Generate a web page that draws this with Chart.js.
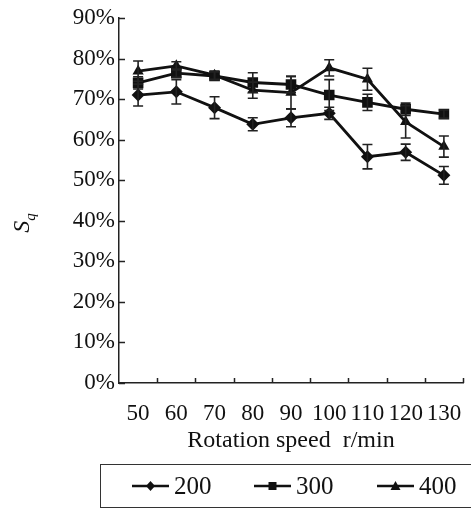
<!DOCTYPE html>
<html>
<head>
<meta charset="utf-8">
<script src="https://cdn.jsdelivr.net/npm/chart.js@4/dist/chart.umd.min.js"></script>
<style>
  body { margin: 0; background: #fff; }
  #wrap { position: relative; width: 472px; height: 509px; font-family: "Liberation Serif", "DejaVu Serif", serif; color: #111; }
  #yTitle { position: absolute; left: 4px; top: 209px; width: 34px; height: 28px; font-size: 24px; line-height: 28px; font-style: italic; transform: rotate(-90deg); text-align: center; }
  #yTitle sub { font-size: 15px; }
  #legend { position: absolute; left: 100px; top: 464px; width: 371px; height: 44px; border: 1.5px solid #333; border-right: none; box-sizing: border-box; }
  .item { position: absolute; top: 7px; height: 28px; font-size: 25px; line-height: 28px; }
  .item svg { position: absolute; left: 0; top: 7px; }
  .item span { position: absolute; left: 42px; top: 0; }
</style>
</head>
<body>
<div id="wrap">
  <canvas id="c" width="472" height="509"></canvas>
  <div id="yTitle">S<sub>q</sub></div>
  <div id="legend">
    <div class="item" style="left:31px"><svg width="40" height="14"><line x1="0" y1="7" x2="37" y2="7" stroke="#111" stroke-width="2.5"/><polygon points="18.5,2 23,7 18.5,12 14,7" fill="#111"/></svg><span>200</span></div>
    <div class="item" style="left:153px"><svg width="40" height="14"><line x1="0" y1="7" x2="37" y2="7" stroke="#111" stroke-width="2.5"/><rect x="14.5" y="3" width="8" height="8" fill="#111"/></svg><span>300</span></div>
    <div class="item" style="left:276px"><svg width="40" height="14"><line x1="0" y1="7" x2="37" y2="7" stroke="#111" stroke-width="2.5"/><polygon points="18.5,2 23.5,11 13.5,11" fill="#111"/></svg><span>400</span></div>
  </div>
</div>
<script>
// categorias e séries
const speeds = ['50', '60', '70', '80', '90', '100', '110', '120', '130'];
const s200 = [71.0, 71.8, 67.9, 63.8, 65.4, 66.5, 55.8, 56.9, 51.2];
const e200 = [2.7, 3.0, 2.7, 1.6, 2.2, 1.5, 3.0, 2.0, 2.2];
const s300 = [74.0, 76.4, 75.7, 74.1, 73.6, 71.0, 69.2, 67.5, 66.3];
const e300 = [1.5, 1.0, 1.0, 2.4, 2.0, 3.8, 2.0, 1.5, 1.0];
const s400 = [76.9, 78.2, 75.9, 72.2, 71.6, 77.7, 74.9, 64.4, 58.3];
const e400 = [2.5, 1.0, 1.0, 2.0, 4.0, 2.0, 2.7, 4.0, 2.6];
const yTicks = [0, 10, 20, 30, 40, 50, 60, 70, 80, 90];

const font = { family: '"Liberation Serif", serif', size: 23 };

// barras de erro desenhadas com as escalas do gráfico
const errorBars = {
    id: 'errorBars',
    afterDatasetsDraw(chart) {
        const ctx = chart.ctx;
        const x = chart.scales.x, y = chart.scales.y;
        ctx.save();
        ctx.strokeStyle = '#222';
        ctx.lineWidth = 1.6;
        chart.data.datasets.forEach(ds => {
            ds.data.forEach((v, i) => {
                const px = x.getPixelForValue(i);
                const top = y.getPixelForValue(v + ds.err[i]);
                const bot = y.getPixelForValue(v - ds.err[i]);
                ctx.beginPath();
                ctx.moveTo(px, top); ctx.lineTo(px, bot);
                ctx.moveTo(px - 5, top); ctx.lineTo(px + 5, top);
                ctx.moveTo(px - 5, bot); ctx.lineTo(px + 5, bot);
                ctx.stroke();
            });
        });
        ctx.restore();
    }
};

// marcas dos eixos voltadas para dentro
const innerTicks = {
    id: 'innerTicks',
    afterDraw(chart) {
        const ctx = chart.ctx;
        const x = chart.scales.x, y = chart.scales.y;
        const area = chart.chartArea;
        ctx.save();
        ctx.strokeStyle = '#222';
        ctx.lineWidth = 1.5;
        ctx.beginPath();
        const half = (x.getPixelForValue(1) - x.getPixelForValue(0)) / 2;
        speeds.forEach((s, i) => {
            const px = Math.round(x.getPixelForValue(i) + half) + 0.5;
            ctx.moveTo(px, area.bottom); ctx.lineTo(px, area.bottom - 5);
        });
        yTicks.forEach(v => {
            const py = Math.round(y.getPixelForValue(v)) + 0.5;
            ctx.moveTo(area.left, py); ctx.lineTo(area.left + 6, py);
        });
        ctx.stroke();
        ctx.restore();
    }
};

function serie(label, data, err, style, radius) {
    return {
        label: label,
        data: data,
        err: err,
        borderColor: '#111',
        backgroundColor: '#111',
        borderWidth: 2.8,
        pointStyle: style,
        pointRadius: radius,
        pointBorderWidth: 0,
        tension: 0
    };
}

new Chart(document.getElementById('c'), {
    type: 'line',
    data: {
        labels: speeds,
        datasets: [
            serie('200', s200, e200, 'rectRot', 6.5),
            serie('300', s300, e300, 'rect', 7.5),
            serie('400', s400, e400, 'triangle', 6.5)
        ]
    },
    options: {
        responsive: false,
        animation: false,
        layout: { padding: { top: 18, right: 9, bottom: 54, left: 0 } },
        plugins: { legend: { display: false }, tooltip: { enabled: false } },
        scales: {
            x: {
                offset: true,
                grid: { display: false, drawTicks: false },
                border: { color: '#222', width: 1.5 },
                ticks: { color: '#111', font: font, padding: 17, maxRotation: 0, autoSkip: false },
                title: { display: true, text: 'Rotation speed  r/min', color: '#111', font: { family: font.family, size: 24 }, padding: 0 },
                afterFit(scale) {
                    scale.height = 72;
                    scale.paddingLeft = 0;
                    scale.paddingRight = 0;
                }
            },
            y: {
                min: 0,
                max: 90,
                grid: { display: false, drawTicks: false },
                border: { color: '#222', width: 1.5 },
                afterBuildTicks(scale) { scale.ticks = yTicks.map(v => ({ value: v })); },
                ticks: { color: '#111', font: font, padding: 4, callback: v => v + '%' },
                afterFit(scale) {
                    scale.width = 119;
                    scale.paddingTop = 0;
                    scale.paddingBottom = 0;
                }
            }
        }
    },
    plugins: [errorBars, innerTicks]
});
</script>
</body>
</html>
